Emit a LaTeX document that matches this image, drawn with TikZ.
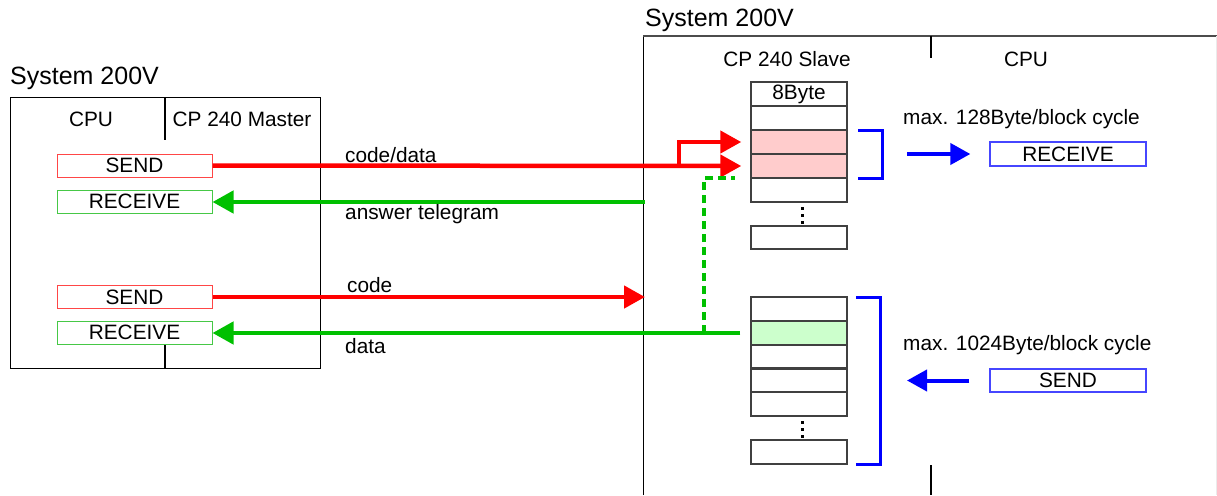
\documentclass[tikz,border=0pt]{standalone}
\usepackage{fontspec}
\setmainfont{Liberation Sans}
\usetikzlibrary{arrows.meta}
\definecolor{myred}{RGB}{255,0,0}
\definecolor{mygreen}{RGB}{0,192,0}
\definecolor{lred}{RGB}{255,70,70}
\definecolor{lgreen}{RGB}{70,200,70}
\definecolor{myblue}{RGB}{0,0,255}
\definecolor{lblue}{RGB}{70,70,255}
\definecolor{pinkf}{RGB}{255,204,204}
\definecolor{greenf}{RGB}{204,255,204}
\begin{document}
\begin{tikzpicture}[x=1pt,y=-1pt,
  txt/.style={font=\fontsize{20.8pt}{24pt}\selectfont, inner sep=0pt},
  big/.style={font=\fontsize{25pt}{30pt}\selectfont, inner sep=0pt, anchor=west},
  lbl/.style={txt, anchor=west},
  fbox/.style={txt, draw, line width=1pt, minimum width=155pt, minimum height=23pt},
  row/.style={txt, draw=black!75, line width=1.5pt, minimum width=96pt, minimum height=24pt},
  bigarrow/.style={line width=4.5pt, -{Triangle[length=21pt,width=22pt]}},
  bluearrow/.style={line width=4pt, myblue, -{Triangle[length=20pt,width=21pt]}},
  bracket/.style={line width=3pt, myblue},
  dotcol/.style={line width=3pt, dash pattern=on 3pt off 4pt},
]
\useasboundingbox (0,0) rectangle (1217,495);

% ---------- left system ----------
\node[big] (sysL) at (10,78) {System 200V};
\draw[line width=1pt] (10,97) rectangle (320,368);
\draw[line width=1.3pt] (165,97) -- (165,140);
\draw[line width=1.3pt] (165,345) -- (165,368);
\node[txt] (cpuL) at (91,119) {CPU};
\node[txt] (cpm) at (242,119) {CP 240 Master};

\node[fbox, draw=lred] (s1) at (134.5,165.5) {SEND};
\node[fbox, draw=lgreen] (rc1) at (134.5,201.5) {RECEIVE};
\node[fbox, draw=lred] (s2) at (134.5,297) {SEND};
\node[fbox, draw=lgreen] (rc2) at (134.5,332.5) {RECEIVE};

% ---------- right system ----------
\node[big] (sysR) at (645,20) {System 200V};
\draw[line width=1pt] (643,495) -- (643,36);
\draw[line width=1.3pt, black!70] (643,36) -- (1217,36);
\draw[line width=0.8pt, black!8] (1216,36) -- (1216,495);
\draw[line width=1.3pt] (931,36) -- (931,58);
\draw[line width=1.3pt] (931,465) -- (931,495);
\node[txt] (cps) at (787,59) {CP 240 Slave};
\node[txt] (cpuR) at (1026,59) {CPU};

% stack 1
\node[row] (a1) at (799,94) {8Byte};
\node[row] (a2) at (799,118) {};
\node[row, fill=pinkf] (a3) at (799,142) {};
\node[row, fill=pinkf] (a4) at (799,166) {};
\node[row] (a5) at (799,190) {};
\node[row, minimum height=23pt] (a6) at (799,237.5) {};
\draw[dotcol] (802,207) -- (802,226);

% stack 2
\node[row] (b1) at (799,309) {};
\node[row, fill=greenf] (b2) at (799,333) {};
\node[row] (b3) at (799,357) {};
\node[row] (b4) at (799,380) {};
\node[row] (b5) at (799,404) {};
\node[row] (b6) at (799,452) {};
\draw[dotcol] (802,421) -- (802,440);

% brackets
\draw[bracket] (858,130) -- (882,130) -- (882,178) -- (858,178);
\draw[bracket] (856,297) -- (880,297) -- (880,464) -- (856,464);

% right-hand CPU side
\node[lbl] (m1) at (903,119) {max. 128Byte/block cycle};
\node[txt, draw=lblue, line width=1.3pt, minimum width=156pt, minimum height=24pt] (rcvR) at (1068,154) {RECEIVE};
\node[lbl] (m2) at (903,345) {max. 1024Byte/block cycle};
\node[txt, draw=lblue, line width=1.3pt, minimum width=156pt, minimum height=23pt] (sndR) at (1068,380.5) {SEND};
\coordinate (ba1) at (907,154);
\coordinate (ba2) at (907,380.5);
\draw[bluearrow, shorten >=19pt] (ba1) -- (rcvR.west);
\draw[bluearrow, shorten <=20pt] (sndR.west) -- (ba2);

% ---------- connections ----------
\coordinate (br) at (679,166);
\draw[bigarrow, myred, shorten >=9pt] (s1.east) -- (a4.west);
\draw[bigarrow, myred, shorten >=9pt] (br) |- (a3.west);
\node[lbl] (t1) at (345,155) {code/data};

\coordinate (rin1) at (645,202);
\draw[bigarrow, mygreen] (rin1) -- (rc1.east |- rin1);
\node[lbl] (t2) at (345,214) {answer telegram};

\coordinate (rin2) at (645,297);
\draw[bigarrow, myred] (s2.east) -- (rin2);
\node[lbl] (t3) at (347,285) {code};

\draw[bigarrow, mygreen, shorten <=10pt] (b2.west) -- (rc2.east |- b2.west);
\node[lbl] (t4) at (345,346) {data};

\coordinate (dj) at (704,333);
\coordinate (de) at (735,178);
\draw[mygreen, line width=3.5pt, dash pattern=on 8pt off 5pt] (dj) |- (de);
\end{tikzpicture}
\end{document}
